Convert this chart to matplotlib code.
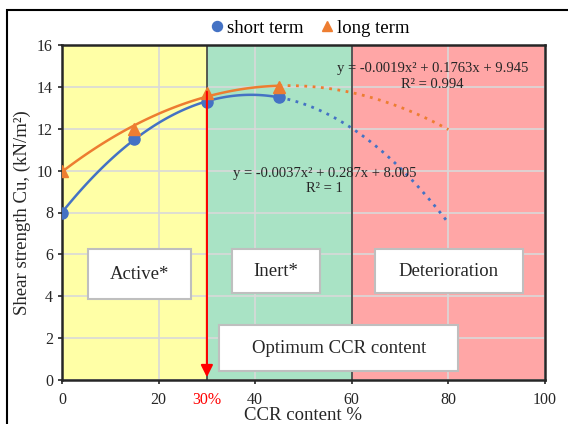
import matplotlib.pyplot as plt
import numpy as np
from matplotlib.patches import Rectangle

# -- data --
ccr = [0, 15, 30, 45]
short_term = [8.0, 11.5, 13.3, 13.5]
long_term = [10.0, 12.0, 13.7, 14.0]
short_eq = "y = -0.0037x\u00b2 + 0.287x + 8.005\nR\u00b2 = 1"
long_eq = "y = -0.0019x\u00b2 + 0.1763x + 9.945\nR\u00b2 = 0.994"
regions = [(0, 30, "#FFFFA6"), (30, 60, "#A9E3C5"), (60, 100, "#FFA6A6")]
region_labels = ["Active*", "Inert*", "Deterioration"]
optimum = 30

plt.rcParams["font.family"] = ["Liberation Serif", "DejaVu Serif"]

fig = plt.figure(figsize=(5.68, 4.24), dpi=100)
ax = fig.add_axes([62 / 568, 44 / 424, 483 / 568, 335 / 424])

# -- background zones --
for x0, x1, c in regions:
    ax.axvspan(x0, x1, color=c, zorder=0.2, lw=0)
for xb in (30, 60):
    ax.axvline(xb, color="#404040", lw=1.2, zorder=0.6)

# -- quadratic fits: solid over data, dotted forecast to 80 --
for y, col in ((short_term, "#4472C4"), (long_term, "#ED7D31")):
    p = np.polyfit(ccr, y, 2)
    xs = np.linspace(0, 45, 100)
    xf = np.linspace(45, 80, 100)
    ax.plot(xs, np.polyval(p, xs), color=col, lw=1.8, zorder=2)
    ax.plot(xf, np.polyval(p, xf), color=col, lw=2, ls=(0, (1, 2)), zorder=2)

ax.plot(ccr, short_term, "o", color="#4472C4", ms=8, ls="none", zorder=3, label="short term")
ax.plot(ccr, long_term, "^", color="#ED7D31", ms=8, ls="none", zorder=3, label="long term")

# -- optimum arrow --
ax.annotate("", xy=(optimum, 0), xytext=(optimum, 13.9),
            arrowprops=dict(arrowstyle="-|>", color="red", lw=1.5, mutation_scale=18),
            zorder=4)


def label_box(x0, x1, y0, y1, text):
    ax.add_patch(Rectangle((x0, y0), x1 - x0, y1 - y0, fc="white", ec="#BFBFBF",
                           lw=1.5, zorder=5))
    ax.text((x0 + x1) / 2, (y0 + y1) / 2, text, ha="center", va="center",
            fontsize=13.5, color="#262626", zorder=6)


label_box(5.4, 26.7, 3.85, 6.24, region_labels[0])
label_box(35.1, 53.5, 4.15, 6.24, region_labels[1])
label_box(64.7, 95.5, 4.15, 6.24, region_labels[2])
label_box(32.6, 82.0, 0.43, 2.62, "Optimum CCR content")

ax.text(76.7, 14.5, long_eq, ha="center", va="center", fontsize=10.5,
        linespacing=1.3, color="#262626", zorder=6)
ax.text(54.3, 9.5, short_eq, ha="center", va="center", fontsize=10.5,
        linespacing=1.15, color="#262626", zorder=6)

# -- axes --
ax.set_xlim(0, 100)
ax.set_ylim(0, 16)
ax.set_xticks([0, 20, 30, 40, 60, 80, 100])
ax.set_xticklabels(["0", "20", "30%", "40", "60", "80", "100"])
ax.set_yticks(np.arange(0, 17, 2))
ax.tick_params(direction="out", length=3, width=1.2, colors="#262626", labelsize=11.5)
ax.tick_params(axis="x", pad=6)
ax.get_xticklabels()[2].set_color("red")
ax.xaxis.get_major_ticks()[2].tick1line.set_visible(False)
ax.set_axisbelow(True)
ax.grid(color="#D9D9D9", lw=1.2)
for gl, t in zip(ax.get_xgridlines(), ax.get_xticks()):
    if t == 30:
        gl.set_visible(False)
for s in ax.spines.values():
    s.set_color("#262626")
    s.set_linewidth(1.8)
ax.set_xlabel("CCR content %", fontsize=13.5, labelpad=-1, color="#262626")
ax.set_ylabel("Shear strength Cu, (kN/m\u00b2)", fontsize=13.5, labelpad=4, color="#262626")

fig.legend(loc="center", bbox_to_anchor=(309 / 568, 1 - 28 / 424), ncol=2, frameon=False,
           fontsize=13.5, handlelength=0.9, handletextpad=0.1, columnspacing=0.8,
           markerscale=0.9)

fig.patches.append(Rectangle((7 / 568, -0.05), 1, 1 - 10 / 424 + 0.05, transform=fig.transFigure,
                             fill=False, ec="black", lw=1.5))

fig.savefig("out.png", dpi=100)
plt.close(fig)
